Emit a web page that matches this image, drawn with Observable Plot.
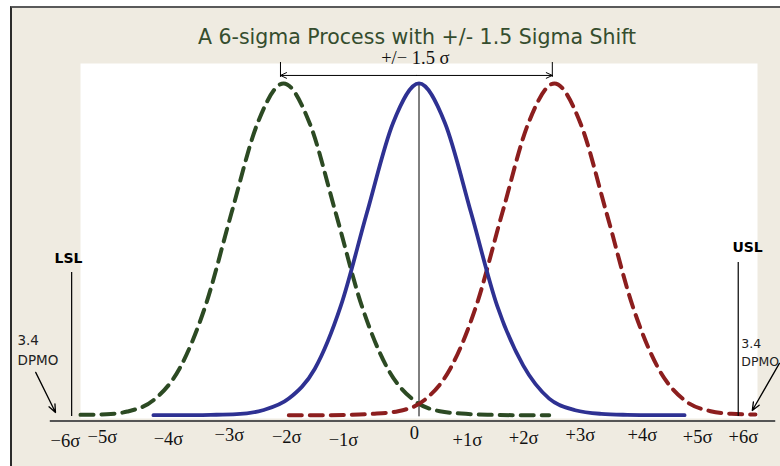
<!DOCTYPE html>
<html><head><meta charset="utf-8">
<script src="https://cdn.jsdelivr.net/npm/d3@7"></script>
<script src="https://cdn.jsdelivr.net/npm/@observablehq/plot@0.6"></script>
<style>
body{margin:0;background:#fff;}
#wrap{position:relative;width:780px;height:466px;overflow:hidden;background:#fff;}
#bg{position:absolute;left:10px;top:6px;right:0;bottom:0;background:#efebe1;border-top:2px solid #5a5a5a;border-left:2px solid #2b2b2b;}
#chart{position:absolute;left:0;top:0;}
</style></head><body>
<div id="wrap"><div id="bg"></div><div id="chart"></div></div>
<script>
// ---- text ----
const title = "A 6-sigma Process with +/- 1.5 Sigma Shift";
const shiftLabel = "+/\u2212 1.5 \u03c3";
const dpmoLabel = "3.4\nDPMO";

// ---- x tick labels (in σ units of the drawn curves) ----
const tickLabels = ["\u22126\u03c3","\u22125\u03c3","\u22124\u03c3","\u22123\u03c3","\u22122\u03c3","\u22121\u03c3","0","+1\u03c3","+2\u03c3","+3\u03c3","+4\u03c3","+5\u03c3","+6\u03c3"];
const tickPos    = [-6.79,-6.08,-4.81,-3.64,-2.54,-1.45,-0.09,0.93,2.01,3.10,4.29,5.35,6.23];
const tickRow    = [-0.078,-0.067,-0.073,-0.061,-0.067,-0.076,-0.055,-0.076,-0.070,-0.061,-0.061,-0.067,-0.067];

// ---- curves (relative height) ----
const centeredX = [-5.1,-4.5,-4,-3.5,-3,-2.5,-2,-1.5,-1,-0.5,0,0.5,1,1.5,2,2.5,3,3.5,4,4.5,5.1];
const centeredY = [0,0,0.001,0.003,0.015,0.05,0.14,0.33,0.61,0.88,1,0.88,0.61,0.33,0.15,0.05,0.015,0.004,0.001,0,0];
const leftShiftX = [-6.5,-6.0,-5.6,-5.1,-4.6,-4.1,-3.6,-3.1,-2.6,-2.1,-1.6,-1.1,-0.6,-0.1,0.4,0.9,1.4,1.9,2.5];
const leftShiftY = [0.001,0.003,0.011,0.045,0.14,0.33,0.61,0.88,1,0.88,0.61,0.33,0.14,0.045,0.012,0.004,0.001,0,0];
const rightShiftX = [-2.5,-1.9,-1.4,-0.9,-0.4,0.1,0.6,1.1,1.6,2.1,2.6,3.1,3.6,4.1,4.6,5.1,5.6,6.0,6.46];
const rightShiftY = [0,0,0.001,0.004,0.012,0.045,0.14,0.33,0.61,0.88,1,0.88,0.61,0.33,0.14,0.045,0.012,0.004,0.002];

// ---- annotation anchors ----
const shiftFrom = -2.66, shiftTo = 2.56, shiftY = 1.024;
const lslX = -6.67, uslX = 6.13;
const lslTop = 0.43, uslTop = 0.46;
const axisY = -0.0175, axisFrom = -7.08, axisTo = 6.85;

const toRows = (xs, ys) => xs.map((x, i) => ({x, y: ys[i]}));
const centered = toRows(centeredX, centeredY);
const leftShift = toRows(leftShiftX, leftShiftY);
const rightShift = toRows(rightShiftX, rightShiftY);
const ticks = tickLabels.map((label, i) => ({label, x: tickPos[i], y: tickRow[i]}));

const sans = "DejaVu Sans, Verdana, sans-serif";
const serif = "Liberation Serif, Times New Roman, serif";
const mid = (shiftFrom + shiftTo) / 2;

const chart = Plot.plot({
  width: 780, height: 466,
  marginLeft: 80, marginRight: 23, marginTop: 63, marginBottom: 48,
  style: {background: "transparent", overflow: "visible"},
  x: {domain: [-6.5, 6.5], axis: null},
  y: {domain: [-0.01, 1.06], axis: null},
  marks: [
    Plot.frame({fill: "white", stroke: null}),
    Plot.ruleY([axisY], {x1: axisFrom, x2: axisTo, stroke: "#555", strokeWidth: 2}),
    Plot.ruleX([0], {y1: -0.005, y2: 1, stroke: "#000", strokeWidth: 1}),
    Plot.line(leftShift, {x: "x", y: "y", curve: "monotone-x", stroke: "#2c4a23", strokeWidth: 4, strokeDasharray: "13,8"}),
    Plot.line(rightShift, {x: "x", y: "y", curve: "monotone-x", stroke: "#8c1e1e", strokeWidth: 4, strokeDasharray: "13,8"}),
    Plot.line(centered, {x: "x", y: "y", curve: "monotone-x", stroke: "#2e3192", strokeWidth: 3.8, strokeLinecap: "round"}),
    // shift arrow
    Plot.arrow([{x1: mid, x2: shiftFrom}, {x1: mid, x2: shiftTo}], {x1: "x1", x2: "x2", y1: shiftY, y2: shiftY, stroke: "#000", strokeWidth: 1, headLength: 10, headAngle: 50}),
    Plot.ruleX([shiftFrom, shiftTo], {y1: 1.018, y2: 1.063, stroke: "#000", strokeWidth: 1}),
    Plot.text([shiftLabel], {x: -0.07, y: 1.077, text: d => d, fontFamily: serif, fontSize: 18.5, fill: "#111"}),
    // title
    Plot.text([title], {frameAnchor: "top", dy: -34, dx: -2, text: d => d, fontFamily: sans, fontSize: 20.5, fill: "#354d2e"}),
    // tick labels
    Plot.text(ticks, {x: "x", y: "y", text: "label", fontFamily: serif, fontSize: 18.5, fill: "#111"}),
    // spec limits
    Plot.ruleX([lslX], {y1: -0.004, y2: lslTop, stroke: "#000", strokeWidth: 1.2}),
    Plot.ruleX([uslX], {y1: -0.004, y2: uslTop, stroke: "#000", strokeWidth: 1.2}),
    Plot.text(["LSL"], {x: -6.73, y: 0.472, text: d => d, fontFamily: sans, fontWeight: "bold", fontSize: 14, fill: "#000"}),
    Plot.text(["USL"], {x: 6.31, y: 0.505, text: d => d, fontFamily: sans, fontWeight: "bold", fontSize: 14, fill: "#000"}),
    // DPMO notes
    Plot.text([dpmoLabel], {x: -7.71, y: 0.201, text: d => d, textAnchor: "start", lineHeight: 1.45, fontFamily: sans, fontSize: 13.5, fill: "#222"}),
    Plot.text([dpmoLabel], {x: 6.19, y: 0.192, text: d => d, textAnchor: "start", lineHeight: 1.45, fontFamily: sans, fontSize: 12.5, fill: "#222"}),
    Plot.arrow([{x1: -7.36, y1: 0.129, x2: -6.98, y2: 0.008}, {x1: 6.92, y1: 0.156, x2: 6.40, y2: 0.014}], {x1: "x1", y1: "y1", x2: "x2", y2: "y2", stroke: "#000", strokeWidth: 1.3, headLength: 10, headAngle: 45})
  ]
});
document.getElementById("chart").appendChild(chart);
</script>
</body></html>
